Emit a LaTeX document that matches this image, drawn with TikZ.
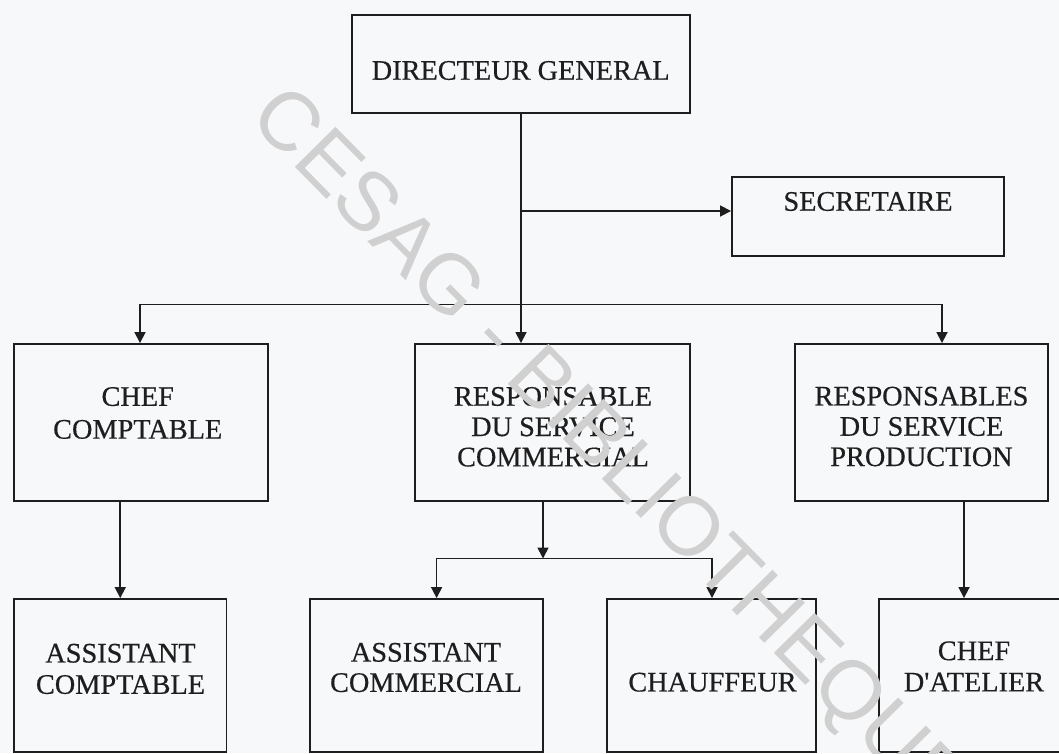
\documentclass[tikz,border=0pt]{standalone}
\usepackage{fontspec}
\setmainfont{Liberation Serif}
\newfontfamily\lblfont{Liberation Serif}[FakeBold=0.5]
\newfontfamily\wmfont{Liberation Sans}
\usetikzlibrary{arrows.meta}
\definecolor{bg}{RGB}{247,248,250}
\definecolor{ink}{RGB}{30,30,30}
\definecolor{wmgray}{RGB}{208,208,208}
\tikzset{
  box/.style={draw=ink, line width=1.9pt, inner sep=0pt, rectangle},
  lbl/.style={text=ink, align=center, inner sep=0pt, font=\lblfont\fontsize{28.3}{30.3}\selectfont},
  conn/.style={draw=ink, line width=1.7pt},
  arr/.style={conn, -{Triangle[width=11pt,length=11pt]}},
  wmtext/.style={text=wmgray, inner sep=0pt, font=\wmfont\fontsize{83}{83}\selectfont},
}
\begin{document}
\begin{tikzpicture}[x=1pt,y=-1pt]
\useasboundingbox (0,0) rectangle (1059,753);
\clip (0,0) rectangle (1059,753);
\fill[bg] (0,0) rectangle (1059,753);

% boxes
\node[box, minimum width=338pt, minimum height=98pt]  (dg)   at (521,64)      {};
\node[box, minimum width=272pt, minimum height=79pt]  (sec)  at (868,216.5)   {};
\node[box, minimum width=254pt, minimum height=157pt] (cc)   at (141,422.5)   {};
\node[box, minimum width=275pt, minimum height=157pt] (rsc)  at (552.5,422.5) {};
\node[box, minimum width=253pt, minimum height=157pt] (rsp)  at (921.5,422.5) {};
\node[box, minimum width=212.5pt, minimum height=153pt] (ac)   at (120.25,675.5) {};
\node[box, minimum width=233pt, minimum height=153pt] (acom) at (426.5,675.5) {};
\node[box, minimum width=209pt, minimum height=153pt] (ch)   at (711.5,675.5) {};
\node[box, minimum width=211pt, minimum height=153pt] (ca)   at (984.5,675.5) {};

% labels
\node[lbl] (tdg)   at (520.7,70.5)  {DIRECTEUR GENERAL};
\node[lbl] (tsec)  at (868,201.5)   {SECRETAIRE};
\node[lbl] (tcc)   at (137.7,413)   {CHEF\\[2.5pt]COMPTABLE};
\node[lbl] (trsc)  at (553,426.8)   {RESPONSABLE\\DU SERVICE\\COMMERCIAL};
\node[lbl] (trsp)  at (921.5,426.5) {RESPONSABLES\\DU SERVICE\\PRODUCTION};
\node[lbl] (tac)   at (120.5,668.9) {ASSISTANT\\[1pt]COMPTABLE};
\node[lbl] (tacom) at (426,667.5)   {ASSISTANT\\COMMERCIAL};
\node[lbl] (tch)   at (712.5,682.2) {CHAUFFEUR};
\node[lbl] (tca)   at (974,666.4)   {CHEF\\[1pt]D'ATELIER};

% connectors
\draw[arr] (dg.south) -- (dg.south |- rsc.north);
\coordinate (js) at (521,211);
\draw[arr] (js) -- (js -| sec.west);
\coordinate (bm) at (521,304.5);
\coordinate (bl) at (140,304.5);
\coordinate (br) at (942,304.5);
\draw[arr] (bm) -- (bl) -- (bl |- cc.north);
\draw[arr] (bm) -- (br) -- (br |- rsp.north);
\draw[arr] (ac.north |- cc.south) -- (ac.north);
\coordinate (cm) at (543,558.5);
\coordinate (cl) at (436.6,558.5);
\coordinate (cr) at (712,558.5);
\draw[arr] (cm |- rsc.south) -- (cm);
\draw[arr] (cm) -- (cl) -- (cl |- acom.north);
\draw[arr] (cm) -- (cr) -- (cr |- ch.north);
\coordinate (pa) at (964,500);
\draw[arr] (pa |- rsp.south) -- (pa |- ca.north);

% watermark
\node[wmtext, anchor=base west, rotate=-45.4] (wm) at (247.8,119.6) {CESAG - BIBLIOTHEQUE};
\end{tikzpicture}
\end{document}
